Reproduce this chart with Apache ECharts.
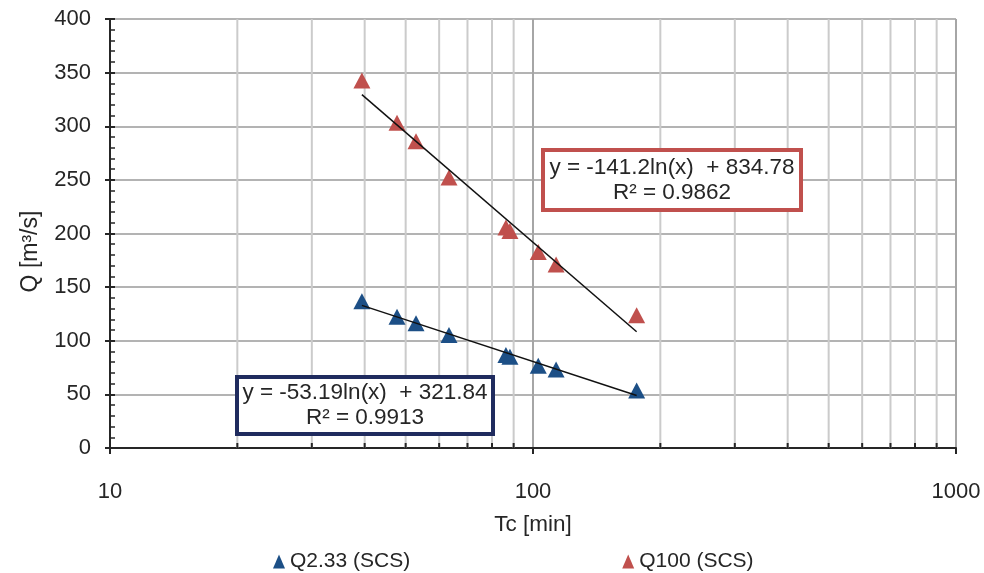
<!DOCTYPE html>
<html>
<head>
<meta charset="utf-8">
<title>Q vs Tc</title>
<script src="https://cdn.jsdelivr.net/npm/echarts@6/dist/echarts.min.js"></script>
<style>
  html, body { margin: 0; padding: 0; background: #ffffff; }
  #chart { width: 984px; height: 573px; }
</style>
</head>
<body>
<div id="chart"></div>
<script>
// Time of concentration [min] for each catchment
const tcMin = [39.4, 47.7, 52.9, 63.3, 86.3, 88.2, 102.9, 113.4, 175.8];
// Peak discharge [m3/s], SCS method
const q233 = [136.8, 122.4, 116.3, 105.4, 86.7, 85.1, 76.7, 73.3, 53.6];
const q100 = [342.7, 303.2, 286.0, 252.2, 205.6, 202.3, 182.8, 171.0, 123.7];

const seriesNames = ['Q2.33 (SCS)', 'Q100 (SCS)'];
const fitLabels233 = ['y = -53.19ln(x)  + 321.84', 'R² = 0.9913'];
const fitLabels100 = ['y = -141.2ln(x)  + 834.78', 'R² = 0.9862'];

// Intermediate log-axis ticks (2..9 of each decade)
const logMinorTicks = [20, 30, 40, 50, 60, 70, 80, 90, 200, 300, 400, 500, 600, 700, 800, 900];

const FONT = 'Liberation Sans, Arial, sans-serif';
const TEXT = '#262626';
const BLUE = '#1c4f86';
const RED = '#c0504d';
const NAVY = '#1f2b5e';

// Least-squares fit of y = a + b ln(x)
function logFit(xs, ys) {
  const n = xs.length;
  const lx = xs.map(Math.log);
  const mx = lx.reduce((s, v) => s + v, 0) / n;
  const my = ys.reduce((s, v) => s + v, 0) / n;
  let sxy = 0, sxx = 0;
  for (let i = 0; i < n; i++) {
    sxy += (lx[i] - mx) * (ys[i] - my);
    sxx += (lx[i] - mx) * (lx[i] - mx);
  }
  const b = sxy / sxx;
  return { a: my - b * mx, b: b };
}

function trendPoints(xs, ys) {
  const f = logFit(xs, ys);
  const x0 = Math.min.apply(null, xs);
  const x1 = Math.max.apply(null, xs);
  return [[x0, f.a + f.b * Math.log(x0)], [x1, f.a + f.b * Math.log(x1)]];
}

const pairs = (xs, ys) => xs.map((x, i) => [x, ys[i]]);

// Boxed equation label: white rectangle with coloured border and two centred lines
function fitBox(left, top, w, h, stroke, lines) {
  return {
    type: 'group',
    left: left,
    top: top,
    children: [{
      type: 'rect',
      z: 100,
      shape: { x: 2, y: 2, width: w, height: h },
      style: { fill: '#ffffff', stroke: stroke, lineWidth: 4 }
    }, {
      type: 'text',
      z: 101,
      x: 2 + w / 2,
      y: 2 + h / 2,
      style: {
        text: lines.join('\n'),
        textAlign: 'center',
        textVerticalAlign: 'middle',
        fontSize: 22.5,
        lineHeight: 25,
        fill: TEXT,
        fontFamily: FONT
      }
    }]
  };
}

const chart = echarts.init(document.getElementById('chart'), null, { renderer: 'canvas' });

const option = {
  animation: false,
  backgroundColor: '#ffffff',
  textStyle: { fontFamily: FONT },
  grid: { left: 110, top: 19, right: 28, bottom: 125, containLabel: false },
  xAxis: [{
    type: 'log',
    logBase: 10,
    min: 10,
    max: 1000,
    name: 'Tc [min]',
    nameLocation: 'middle',
    nameGap: 65,
    nameTextStyle: { fontSize: 22.5, color: TEXT, fontFamily: FONT },
    axisLine: { lineStyle: { color: TEXT, width: 2 } },
    axisTick: { show: true, length: 6, lineStyle: { color: TEXT, width: 2 } },
    axisLabel: {
      fontSize: 22, color: TEXT, margin: 33, fontFamily: FONT,
      formatter: v => String(Math.round(v))
    },
    splitLine: { show: true, lineStyle: { color: '#a6a6a6', width: 2 } },
    minorTick: { show: false },
    minorSplitLine: { show: false }
  }],
  yAxis: [{
    type: 'value',
    min: 0,
    max: 400,
    interval: 50,
    position: 'left',
    name: 'Q [m³/s]',
    nameLocation: 'middle',
    nameGap: 68,
    nameRotate: 90,
    nameTextStyle: { fontSize: 23, color: TEXT, fontFamily: FONT, padding: [0, 36, 0, 0] },
    axisLine: { show: true, lineStyle: { color: TEXT, width: 2 } },
    axisTick: { show: true, length: 5, lineStyle: { color: TEXT, width: 2 } },
    axisLabel: { fontSize: 22, color: TEXT, margin: 19, fontFamily: FONT },
    splitLine: { show: true, lineStyle: { color: '#b3b3b3', width: 2 } }
  }, {
    // inner half of the crossing ticks plus the minor ticks
    type: 'value',
    min: 0,
    max: 400,
    interval: 50,
    position: 'left',
    axisLine: { show: false },
    axisTick: { show: true, inside: true, length: 5, lineStyle: { color: TEXT, width: 2 } },
    minorTick: { show: true, splitNumber: 5, length: 5, lineStyle: { color: TEXT, width: 1.5 } },
    axisLabel: { show: false },
    splitLine: { show: false }
  }],
  legend: {
    data: seriesNames.map(n => ({ name: n, icon: 'triangle' })),
    left: 268,
    top: 546,
    itemGap: 212,
    itemWidth: 12,
    itemHeight: 14,
    textStyle: { fontSize: 21, color: TEXT, fontFamily: FONT }
  },
  series: [{
    // light gridlines and inner ticks at 20..90, 200..900
    type: 'custom',
    silent: true,
    z: 1,
    data: logMinorTicks.map(v => [v]),
    renderItem: function (params, api) {
      const cs = params.coordSys;
      const x = api.coord([api.value(0), 0])[0];
      const yb = cs.y + cs.height;
      return {
        type: 'group',
        children: [{
          type: 'line',
          shape: { x1: x, y1: cs.y, x2: x, y2: yb },
          style: { stroke: '#cbcbcb', lineWidth: 2 }
        }, {
          type: 'line',
          shape: { x1: x, y1: yb, x2: x, y2: yb - 5 },
          style: { stroke: TEXT, lineWidth: 2 }
        }]
      };
    }
  }, {
    name: seriesNames[0],
    type: 'scatter',
    symbol: 'triangle',
    symbolSize: [17, 16],
    itemStyle: { color: BLUE, opacity: 1 },
    z: 4,
    data: pairs(tcMin, q233)
  }, {
    name: seriesNames[1],
    type: 'scatter',
    symbol: 'triangle',
    symbolSize: [17, 16],
    itemStyle: { color: RED, opacity: 1 },
    z: 4,
    data: pairs(tcMin, q100)
  }, {
    type: 'line',
    silent: true,
    symbol: 'none',
    z: 5,
    lineStyle: { color: '#111111', width: 1.5 },
    data: trendPoints(tcMin, q233)
  }, {
    type: 'line',
    silent: true,
    symbol: 'none',
    z: 5,
    lineStyle: { color: '#111111', width: 1.5 },
    data: trendPoints(tcMin, q100)
  }],
  graphic: [
    fitBox(541, 148, 258, 60, RED, fitLabels100),
    fitBox(235, 375, 256, 57, NAVY, fitLabels233)
  ]
};

chart.setOption(option);
</script>
</body>
</html>
